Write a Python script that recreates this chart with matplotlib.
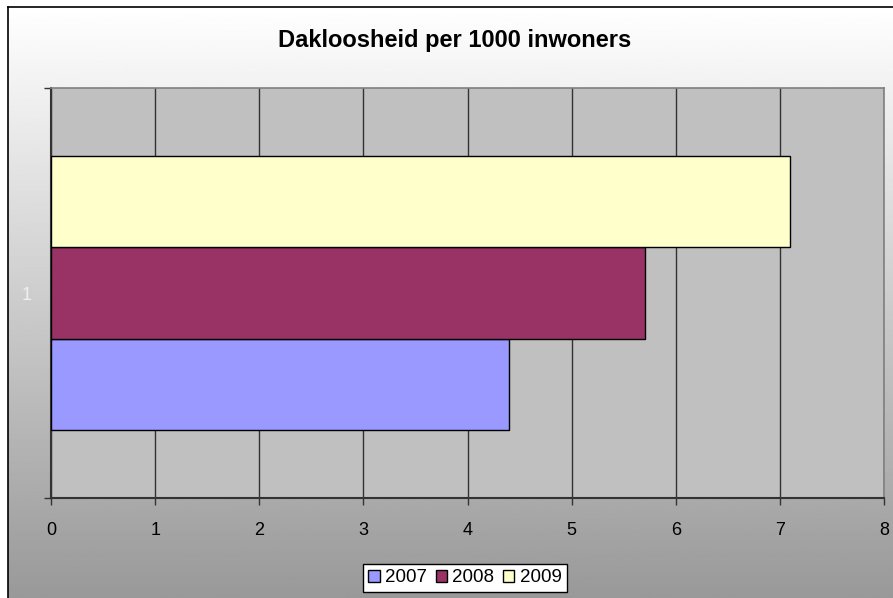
"""dakloosheid bar chart"""

import numpy as np
import matplotlib.pyplot as plt

# data
years = ["2007", "2008", "2009"]
values = [4.4, 5.7, 7.1]
colors = ["#9999FF", "#993366", "#FFFFCC"]
category = "1"
x_ticks = [0, 1, 2, 3, 4, 5, 6, 7, 8]

W, H = 893, 598
plt.rcParams["font.family"] = ["Liberation Sans", "DejaVu Sans"]

fig = plt.figure(figsize=(W / 100, H / 100), dpi=100, facecolor="white")

# achtergrond met verloop
bg = fig.add_axes([8 / W, 0, 1 - 8 / W, 1 - 7 / H], zorder=0)
grad = np.linspace(1.0, 0.6, 256).reshape(-1, 1)
bg.imshow(grad, aspect="auto", cmap="gray", vmin=0, vmax=1, extent=[0, 1, 0, 1])
bg.set_xticks([])
bg.set_yticks([])
for s in ["right", "bottom"]:
    bg.spines[s].set_visible(False)
for s in ["left", "top"]:
    bg.spines[s].set_color("black")
    bg.spines[s].set_linewidth(1.2)

# plotgebied
ax = fig.add_axes([51 / W, 1 - 498 / H, (884 - 51) / W, (498 - 88) / H], zorder=1)
ax.set_facecolor("#C0C0C0")

n = len(values)
h = 1 / (n + 1.5)
offsets = (np.arange(n) - (n - 1) / 2) * h
for yr, v, c, off in zip(years, values, colors, offsets):
    ax.barh(off, v, height=h, color=c, edgecolor="black", linewidth=1, label=yr, zorder=3)

ax.set_xlim(0, 8)
ax.set_ylim(-0.5, 0.5)
ax.set_xticks(x_ticks)
ax.set_xticklabels([str(t) for t in x_ticks], fontsize=13)
ax.grid(axis="x", color="#333333", linewidth=1, zorder=1)
ax.set_axisbelow(True)

ax.set_yticks([0])
ax.set_yticklabels([category], fontsize=13, color="#F0F0F0")
ax.tick_params(axis="y", which="major", length=0, pad=14)
ax.set_yticks([-0.5, 0.5], minor=True)
ax.tick_params(axis="y", which="minor", length=5, width=1, color="#333333")
ax.tick_params(axis="x", length=5, width=1, color="#333333", pad=12)

for s in ["left", "bottom"]:
    ax.spines[s].set_color("#333333")
    ax.spines[s].set_linewidth(1.5)
for s in ["top", "right"]:
    ax.spines[s].set_color("#808080")
    ax.spines[s].set_linewidth(1.2)

fig.text(455 / W, 1 - 41 / H, "Dakloosheid per 1000 inwoners", ha="center", va="center",
         fontsize=17, fontweight="bold")

leg = fig.legend(loc="center", bbox_to_anchor=(465 / W, 1 - 578 / H), ncol=3, fontsize=13.5,
                 frameon=True, fancybox=False, edgecolor="black", facecolor="white",
                 framealpha=1, handlelength=0.6, handleheight=0.6, handletextpad=0.3,
                 columnspacing=0.45, borderpad=0.3)
leg.get_frame().set_linewidth(1)

fig.savefig("out.png", dpi=100)
